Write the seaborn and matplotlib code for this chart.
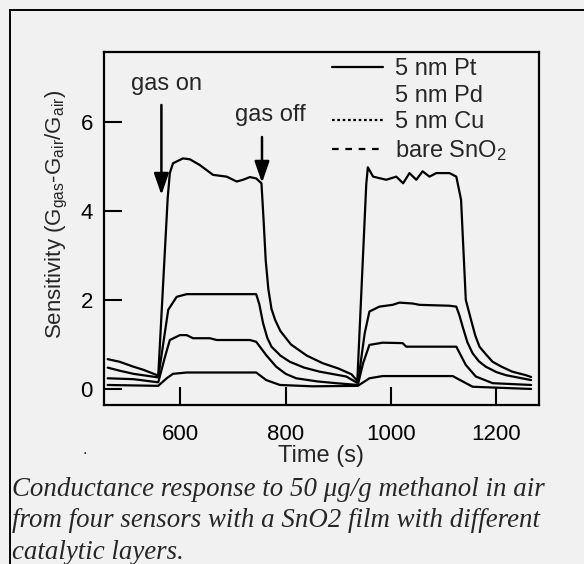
import matplotlib
matplotlib.use("Agg")
import matplotlib.pyplot as plt
import seaborn as sns
import pandas as pd
from matplotlib.lines import Line2D
from matplotlib.patches import Rectangle

# ---------------- data ----------------
pt_time = [462, 485, 511, 530, 558, 576, 580, 586, 605, 618, 637, 662, 688, 707, 719, 732, 744, 754,
           758, 762, 767, 773, 780, 790, 810, 840, 870, 900, 925, 936, 953, 956, 966, 991, 1010, 1023,
           1035, 1048, 1060, 1073, 1086, 1111, 1124, 1133, 1138, 1142, 1152, 1160, 1168, 1180, 1193,
           1210, 1230, 1256, 1266]
pt_sens = [0.67, 0.61, 0.50, 0.43, 0.30, 4.3, 4.85, 5.07, 5.18, 5.16, 5.03, 4.81, 4.77, 4.66, 4.70, 4.76, 4.73, 4.62,
           3.8, 2.9, 2.25, 1.8, 1.55, 1.3, 1.0, 0.75, 0.58, 0.46, 0.33, 0.18, 4.6, 4.98, 4.77, 4.70, 4.77, 4.62,
           4.85, 4.70, 4.89, 4.77, 4.85, 4.85, 4.77, 4.25, 3.0, 2.0, 1.55, 1.2, 0.95, 0.78, 0.61,
           0.5, 0.39, 0.31, 0.27]

pd_time = [462, 485, 511, 558, 577, 593, 612, 680, 744, 750, 757, 765, 773, 790, 808, 835, 864, 915, 937,
           950, 959, 978, 1003, 1016, 1041, 1054, 1111, 1124, 1130, 1136, 1145, 1155, 1167, 1180, 1200,
           1218, 1266]
pd_sens = [0.48, 0.41, 0.34, 0.26, 1.78, 2.07, 2.13, 2.13, 2.13, 1.9, 1.48, 1.15, 0.95, 0.75, 0.61, 0.48, 0.39, 0.28, 0.13,
           1.25, 1.74, 1.85, 1.89, 1.94, 1.92, 1.89, 1.87, 1.85, 1.65, 1.4, 1.05, 0.8, 0.62, 0.5, 0.38,
           0.31, 0.2]

cu_time = [462, 511, 558, 571, 580, 599, 612, 624, 656, 669, 732, 744, 763, 782, 800, 820, 860, 896, 937,
           947, 959, 984, 1022, 1029, 1111, 1124, 1142, 1161, 1193, 1266]
cu_sens = [0.24, 0.22, 0.15, 0.73, 1.10, 1.21, 1.21, 1.14, 1.14, 1.10, 1.10, 1.06, 0.76, 0.50, 0.34, 0.24, 0.17, 0.13, 0.09,
           0.58, 0.99, 1.04, 1.03, 0.95, 0.95, 0.95, 0.54, 0.28, 0.13, 0.09]

bare_time = [462, 558, 574, 586, 612, 744, 763, 789, 850, 937, 959, 984, 1054, 1117, 1155, 1266]
bare_sens = [0.09, 0.07, 0.24, 0.34, 0.37, 0.37, 0.20, 0.09, 0.06, 0.07, 0.24, 0.29, 0.29, 0.29, 0.05, 0.0]

series_labels = ["5 nm Pt", "5 nm Pd", "5 nm Cu", "bare SnO$_2$"]
x_ticks = [600, 800, 1000, 1200]
y_ticks = [0, 2, 4, 6]
gas_on_time, gas_on_y = 564, (6.38, 4.36)
gas_off_time, gas_off_y = 755, (5.66, 4.63)

caption = ("Conductance response to 50 \u03bcg/g methanol in air\n"
           "from four sensors with a SnO2 film with different\n"
           "catalytic layers.")

# ---------------- style ----------------
sns.set_style("ticks")
bg = "#f1f1f1"
plt.rcParams["font.family"] = ["Liberation Sans", "DejaVu Sans"]
plt.rcParams["mathtext.fontset"] = "custom"
plt.rcParams["mathtext.rm"] = "Liberation Sans"
plt.rcParams["mathtext.it"] = "Liberation Sans"

fig = plt.figure(figsize=(5.84, 5.64), dpi=100, facecolor=bg)
ax = fig.add_axes([104 / 584, 1 - 405 / 564, (539 - 104) / 584, (405 - 52) / 564])
ax.set_facecolor(bg)

frames = []
for t, s, name in [(pt_time, pt_sens, series_labels[0]), (pd_time, pd_sens, series_labels[1]),
                   (cu_time, cu_sens, series_labels[2]), (bare_time, bare_sens, series_labels[3])]:
    frames.append(pd.DataFrame({"time": t, "sens": s, "sensor": name}))
df = pd.concat(frames, ignore_index=True)

sns.lineplot(data=df, x="time", y="sens", units="sensor", estimator=None, color="black",
             lw=1.6, ax=ax, legend=False, sort=False)

ax.set_xlim(455, 1281)
ax.set_ylim(-0.36, 7.57)
ax.set_xticks(x_ticks)
ax.set_yticks(y_ticks)
ax.tick_params(direction="in", length=13, width=1.5, labelsize=16, colors="black",
               top=False, right=False)
ax.tick_params(axis="x", pad=14)
ax.tick_params(axis="y", pad=8)
for sp in ax.spines.values():
    sp.set_linewidth(1.6)
    sp.set_color("black")
    sp.set_visible(True)

ax.set_xlabel("Time (s)", fontsize=17, labelpad=0)
ax.set_ylabel("Sensitivity (G$_{gas}$-G$_{air}$/G$_{air}$)", fontsize=16)
ax.yaxis.set_label_coords(-0.078, 0.54)

# arrows and annotations
arrow_kw = dict(arrowstyle="-|>,head_length=1.3,head_width=0.45", lw=1.8, color="black",
                shrinkA=0, shrinkB=0, mutation_scale=10)
ax.annotate("", xy=(gas_on_time, gas_on_y[1]), xytext=(gas_on_time, gas_on_y[0]), arrowprops=arrow_kw)
ax.annotate("", xy=(gas_off_time, gas_off_y[1]), xytext=(gas_off_time, gas_off_y[0]), arrowprops=arrow_kw)
ax.text(gas_on_time + 10, 6.85, "gas on", fontsize=17, ha="center", va="center")
ax.text(gas_off_time + 15, 6.15, "gas off", fontsize=17, ha="center", va="center")

# legend (styles as shown in the key)
handles = [Line2D([], [], color="black", lw=1.6, ls="-"),
           Line2D([], [], color="none", lw=1.6, ls="-"),
           Line2D([], [], color="black", lw=1.6, ls=(0, (1.2, 1.2))),
           Line2D([], [], color="black", lw=1.6, ls=(0, (3, 3)))]
leg = ax.legend(handles, series_labels, loc="upper left", frameon=False, fontsize=17,
                handlelength=2.15, handletextpad=0.5, labelspacing=0.2,
                bbox_to_anchor=(332 / 584, 1 - 58 / 564), bbox_transform=fig.transFigure,
                borderaxespad=0, borderpad=0)

# outer frame
fig.patches.append(Rectangle((10 / 584, -0.2), 1.2, 1.2 - 10 / 564, transform=fig.transFigure,
                             fill=False, lw=1.4, edgecolor="black", zorder=0))

# caption
fig.text(12 / 584, 1 - 477 / 564, caption, fontsize=19.4, family=["Liberation Serif", "DejaVu Serif"],
         style="italic", ha="left", va="top", linespacing=1.33)
fig.text(85 / 584, 1 - 450 / 564, ".", fontsize=12, color="#222222", ha="center", va="center")

fig.savefig("out.png", dpi=100, facecolor=bg)
